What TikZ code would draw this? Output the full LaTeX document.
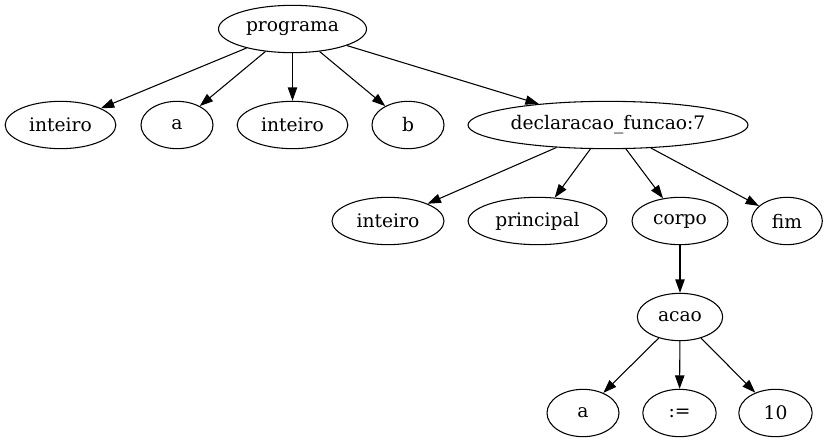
\documentclass[tikz,border=0pt]{standalone}
\usepackage{fontspec}
\setmainfont{DejaVu Serif}
\usetikzlibrary{shapes.geometric,arrows.meta}
\begin{document}
\begin{tikzpicture}[x=0.75pt,y=-0.75pt,
  nd/.style={draw,ellipse,inner sep=0pt,minimum height=35.5pt,line width=0.8pt,font=\fontsize{14}{17}\selectfont},
  ed/.style={draw,line width=0.8pt,-{Triangle[length=10pt,width=7pt]}}]
\useasboundingbox (0,0) rectangle (829,443);
\node[nd,minimum width=111pt] (prog) at (292.5,29) {programa};
\node[nd,minimum width=83pt] (int1) at (60.5,125) {inteiro};
\node[nd,minimum width=54pt] (a1) at (177,125) {a};
\node[nd,minimum width=83pt] (int2) at (292.5,125) {inteiro};
\node[nd,minimum width=54pt] (b) at (408,125) {b};
\node[nd,minimum width=210pt] (decl) at (608,125) {declaracao\_funcao:7};
\node[nd,minimum width=84pt] (int3) at (388,221) {inteiro};
\node[nd,minimum width=104pt] (princ) at (537.5,221) {principal};
\node[nd,minimum width=72pt] (corpo) at (680,221) {corpo};
\node[nd,minimum width=53pt] (fim) at (787,221) {fim};
\node[nd,minimum width=64pt] (acao) at (680,317) {acao};
\node[nd,minimum width=54pt] (a2) at (583,413) {a};
\node[nd,minimum width=55pt] (atr) at (679.5,413) {:=};
\node[nd,minimum width=55pt] (dez) at (775.5,413) {10};
\draw[ed] (prog) -- (int1);
\draw[ed] (prog) -- (a1);
\draw[ed] (prog) -- (int2);
\draw[ed] (prog) -- (b);
\draw[ed] (prog) -- (decl);
\draw[ed] (decl) -- (int3);
\draw[ed] (decl) -- (princ);
\draw[ed] (decl) -- (corpo);
\draw[ed] (decl) -- (fim);
\draw[ed] (corpo) -- (acao);
\draw[ed] (acao) -- (a2);
\draw[ed] (acao) -- (atr);
\draw[ed] (acao) -- (dez);
\end{tikzpicture}
\end{document}
